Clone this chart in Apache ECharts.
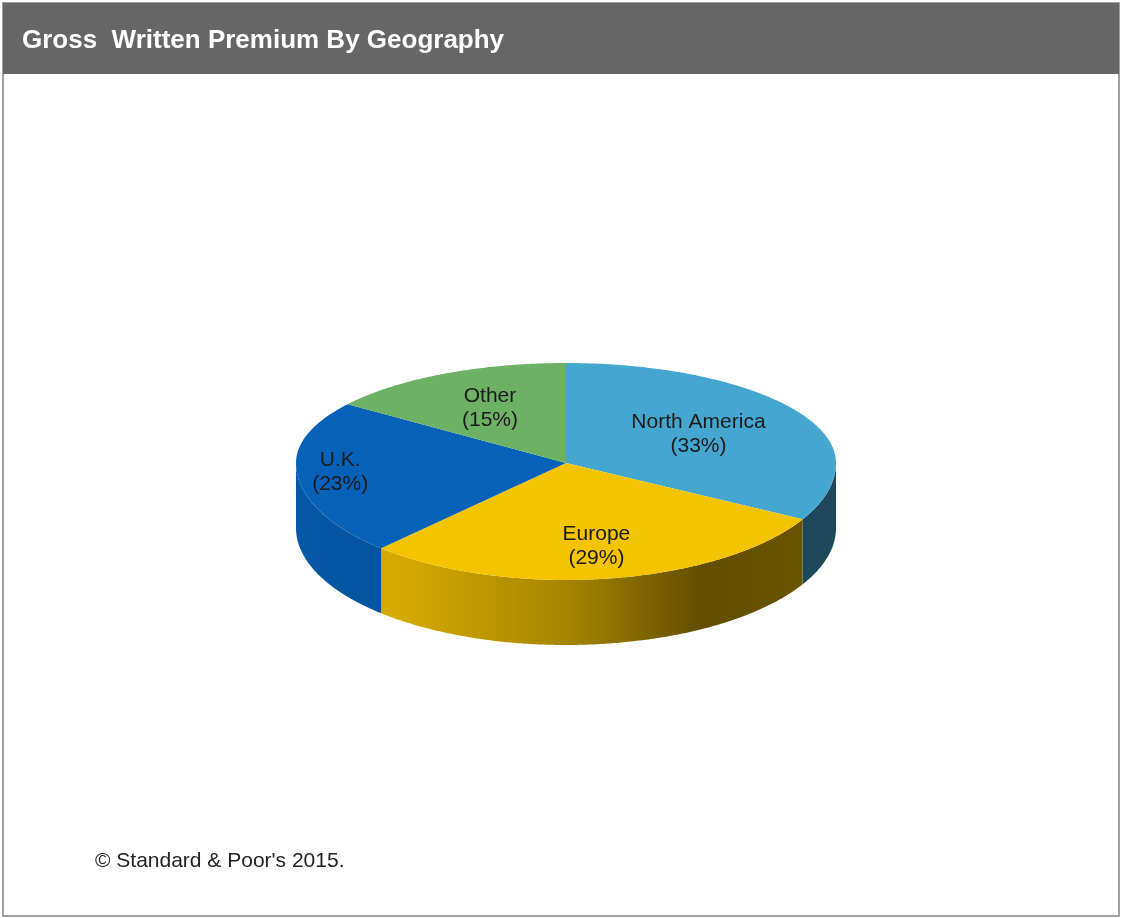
<!DOCTYPE html>
<html>
<head>
<meta charset="utf-8">
<script src="https://cdn.jsdelivr.net/npm/echarts@6/dist/echarts.min.js"></script>
<style>
html,body{margin:0;padding:0;background:#fff;}
#chart{width:1121px;height:918px;}
</style>
</head>
<body>
<div id="chart"></div>
<script>
// ---- data ----
const titleText = 'Gross  Written Premium By Geography';
const sourceText = '\u00A9 Standard & Poor\'s 2015.';
const categories = ['North America', 'Europe', 'U.K.', 'Other'];
const values = [33, 29, 23, 15];

// ---- style ----
const topColors = ['#45A6D0', '#F5C400', '#0562B8', '#6DB164'];
const labelRadius = [0.57, 0.72, 0.84, 0.62];
const CX = 566, CY = 463, RX = 270, RY_BACK = 100, RY_FRONT = 117, DEPTH = 65;

function shade(hex, f) {
  const n = parseInt(hex.slice(1), 16);
  const r = Math.round(((n >> 16) & 255) * f);
  const g = Math.round(((n >> 8) & 255) * f);
  const b = Math.round((n & 255) * f);
  return 'rgb(' + r + ',' + g + ',' + b + ')';
}

const total = values.reduce((s, v) => s + v, 0);

function pt(a, dy, f) {
  const k = f == null ? 1 : f;
  const c = Math.cos(a);
  const ry = c >= 0 ? RY_BACK : RY_FRONT;
  return [CX + RX * Math.sin(a) * k, CY - ry * c * k + (dy || 0)];
}

function renderItem(params, api) {
  const i = params.dataIndex;
  const v = api.value(0);
  let before = 0;
  for (let j = 0; j < i; j++) before += values[j];
  const a0 = before / total * Math.PI * 2;
  const a1 = (before + v) / total * Math.PI * 2;
  const children = [];
  const step = Math.PI / 360;

  // side face (front half only: PI/2 .. 3PI/2)
  const s0 = Math.max(a0, Math.PI / 2), s1 = Math.min(a1, Math.PI * 1.5);
  if (s1 > s0) {
    const pts = [];
    for (let a = s0; a < s1; a += step) pts.push(pt(a, 0));
    pts.push(pt(s1, 0));
    for (let a = s1; a > s0; a -= step) pts.push(pt(a, DEPTH));
    pts.push(pt(s0, DEPTH));
    const base = topColors[i];
    children.push({
      type: 'polygon',
      shape: { points: pts },
      style: {
        fill: new echarts.graphic.LinearGradient(CX - RX, 0, CX + RX, 0, [
          { offset: 0, color: shade(base, 0.9) },
          { offset: 0.2, color: shade(base, 0.86) },
          { offset: 0.5, color: shade(base, 0.68) },
          { offset: 0.75, color: shade(base, 0.4) },
          { offset: 1, color: shade(base, 0.44) }
        ], true),
        stroke: null
      }
    });
  }

  // top face
  const tp = [[CX, CY]];
  for (let a = a0; a < a1; a += step) tp.push(pt(a, 0));
  tp.push(pt(a1, 0));
  children.push({
    type: 'polygon',
    shape: { points: tp },
    style: { fill: topColors[i], stroke: null }
  });

  // label
  const am = (a0 + a1) / 2;
  const lp = pt(am, 0, labelRadius[i]);
  children.push({
    type: 'text',
    z2: 10,
    style: {
      text: categories[i] + '\n(' + Math.round(v / total * 100) + '%)',
      x: lp[0], y: lp[1],
      align: 'center', verticalAlign: 'middle',
      fontFamily: '"Liberation Sans", Arial, sans-serif',
      fontSize: 21, lineHeight: 24,
      fill: '#1a1a1a'
    }
  });

  return { type: 'group', children: children };
}

const chart = echarts.init(document.getElementById('chart'), null, { renderer: 'canvas' });
chart.setOption({
  backgroundColor: '#ffffff',
  animation: false,
  graphic: [
    { type: 'rect', z: -10, shape: { x: 3, y: 3, width: 1116, height: 913 },
      style: { fill: '#ffffff', stroke: '#a0a0a0', lineWidth: 2 } },
    { type: 'rect', z: -9, shape: { x: 3, y: 3, width: 1116, height: 71 },
      style: { fill: '#666666' } }
  ],
  title: [
    { text: titleText, left: 17, top: 23,
      textStyle: { color: '#ffffff', fontSize: 26, fontWeight: 'bold',
        fontFamily: '"Liberation Sans", Arial, sans-serif' } },
    { text: sourceText, left: 90, top: 846,
      textStyle: { color: '#222222', fontSize: 21, fontWeight: 'normal',
        fontFamily: '"Liberation Sans", Arial, sans-serif' } }
  ],
  series: [{
    type: 'custom',
    coordinateSystem: 'none',
    renderItem: renderItem,
    data: values.map((v, i) => ({ name: categories[i], value: [v] }))
  }]
});
</script>
</body>
</html>
